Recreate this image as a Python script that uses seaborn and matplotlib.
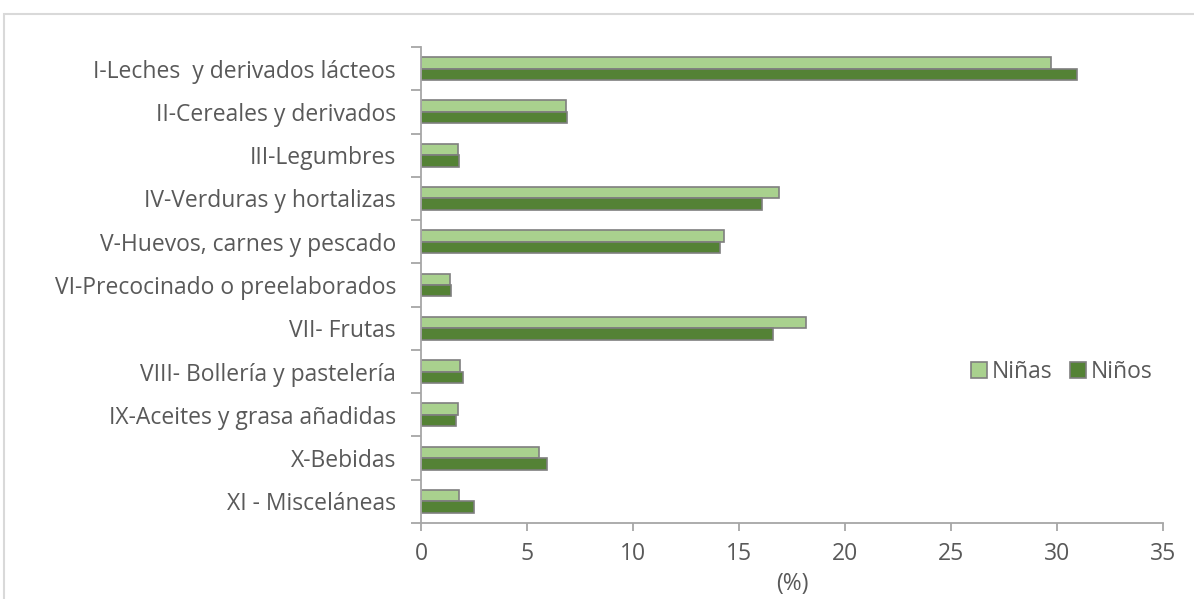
import matplotlib
matplotlib.use("Agg")
import matplotlib.pyplot as plt
from matplotlib.patches import Rectangle
from matplotlib.ticker import FixedLocator
import seaborn as sns
import pandas as pd

categories = [
    "I-Leches  y derivados lácteos",
    "II-Cereales y derivados",
    "III-Legumbres",
    "IV-Verduras y hortalizas",
    "V-Huevos, carnes y pescado",
    "VI-Precocinado o preelaborados",
    "VII- Frutas",
    "VIII- Bollería y pastelería",
    "IX-Aceites y grasa añadidas",
    "X-Bebidas",
    "XI - Misceláneas",
]
ninas = [29.7, 6.85, 1.75, 16.9, 14.3, 1.35, 18.15, 1.85, 1.75, 5.55, 1.8]
ninos = [30.95, 6.9, 1.8, 16.1, 14.1, 1.4, 16.6, 2.0, 1.65, 5.95, 2.5]
series = ["Niñas", "Niños"]
x_ticks = [0, 5, 10, 15, 20, 25, 30, 35]

text_color = "#595959"
axis_color = "#A6A6A6"
palette = {"Niñas": "#A9D18E", "Niños": "#548235"}
fs = 16.5

df = pd.DataFrame({
    "Grupo": categories * 2,
    "Porcentaje": ninas + ninos,
    "Sexo": ["Niñas"] * len(categories) + ["Niños"] * len(categories),
})

sns.set_theme(style="white")
plt.rcParams["font.family"] = ["Open Sans", "DejaVu Sans"]

fig = plt.figure(figsize=(11.94, 5.99), dpi=100)
ax = fig.add_axes([421 / 1194, 1 - 523 / 599, (1163 - 421) / 1194, (523 - 47) / 599])

sns.barplot(
    data=df, y="Grupo", x="Porcentaje", hue="Sexo", order=categories,
    hue_order=series, palette=palette, orient="h", width=0.53, gap=0,
    edgecolor="#7F7F7F", linewidth=1.2, saturation=1, ax=ax, legend=True,
)

ax.set_xlim(0, 35)
ax.set_ylim(len(categories) - 0.5, -0.5)
ax.set_xticks(x_ticks)
ax.set_xticklabels([str(t) for t in x_ticks], color=text_color, fontsize=fs)
ax.yaxis.set_minor_locator(FixedLocator([i - 0.5 for i in range(len(categories) + 1)]))
ax.tick_params(axis="y", which="major", length=0, pad=18, labelsize=fs, labelcolor=text_color)
ax.tick_params(axis="y", which="minor", length=7, width=1.3, color=axis_color, left=True)
ax.tick_params(axis="x", which="major", length=6, width=1.3, color=axis_color, bottom=True, pad=8)
ax.set_ylabel("")
ax.set_xlabel("(%)", color=text_color, fontsize=fs, labelpad=4)

for side in ["top", "right"]:
    ax.spines[side].set_visible(False)
for side in ["left", "bottom"]:
    ax.spines[side].set_color(axis_color)
    ax.spines[side].set_linewidth(1.3)

handles, labels = ax.get_legend_handles_labels()
ax.legend(
    handles, labels, loc="center left", bbox_to_anchor=(950 / 1194, 1 - 372 / 599),
    bbox_transform=fig.transFigure, frameon=False, ncol=2, fontsize=fs,
    handlelength=0.7, handleheight=0.7, handletextpad=0.2, columnspacing=0.8,
    labelcolor=text_color,
)

fig.patches.append(Rectangle((4 / 1194, -0.01), 1.02, 1 - 14 / 599 + 0.01,
                             transform=fig.transFigure, fill=False,
                             edgecolor="#D9D9D9", linewidth=1.5))

fig.savefig("out.png", dpi=100, facecolor="white")
